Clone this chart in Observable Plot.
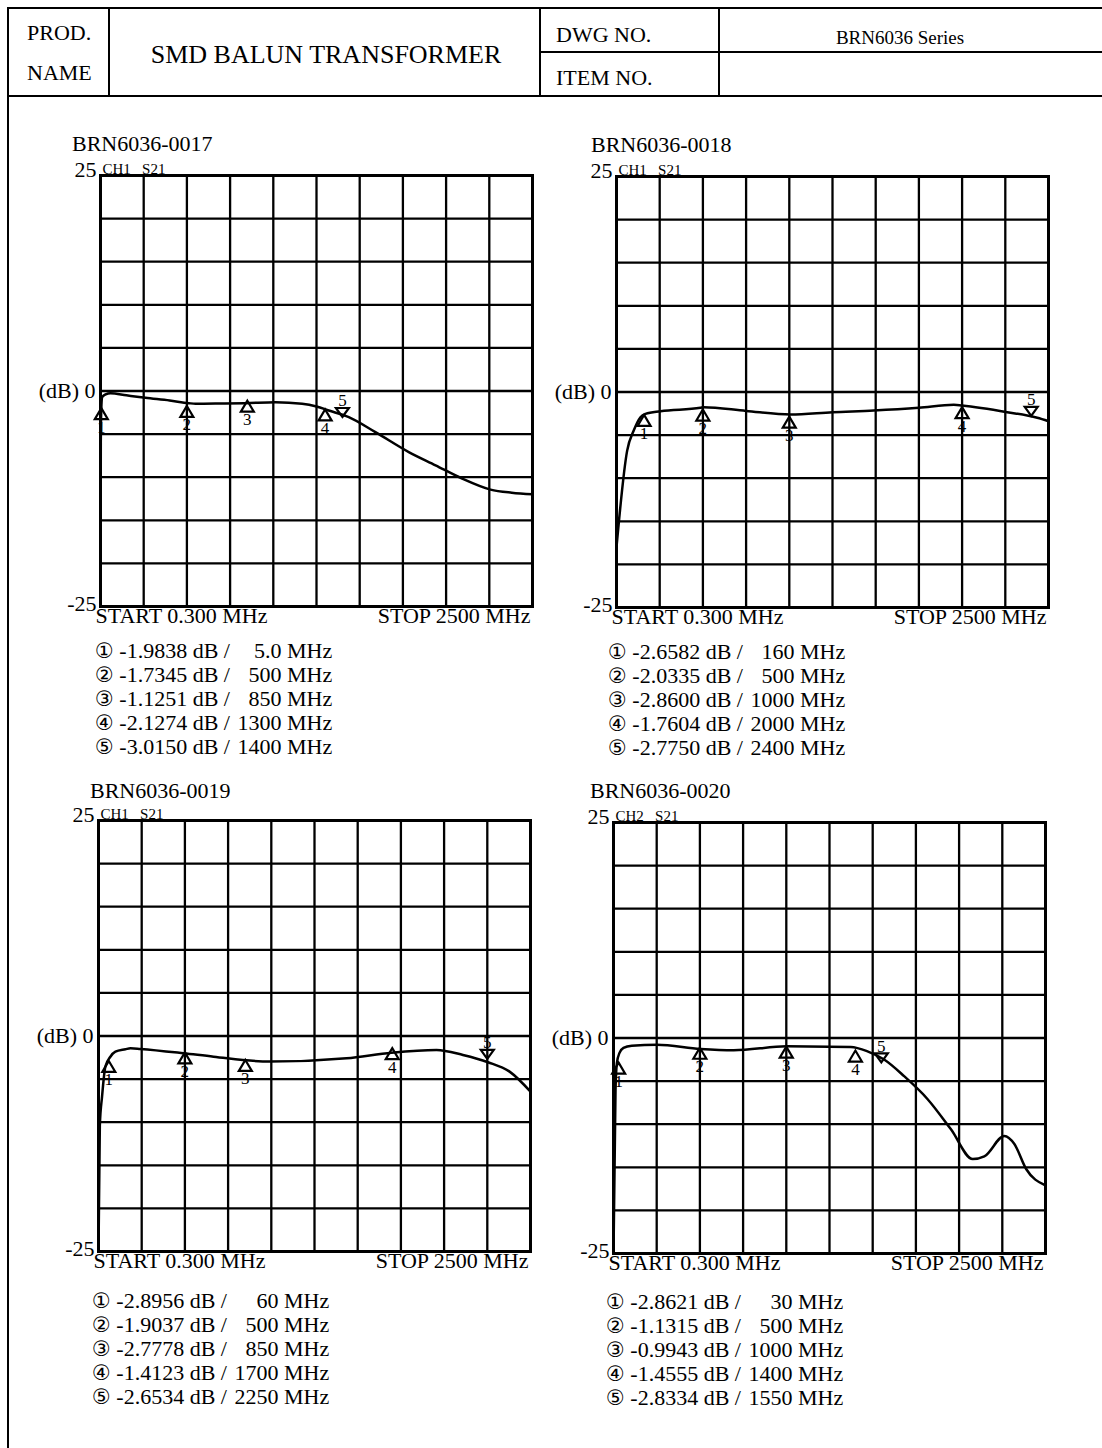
<!DOCTYPE html>
<html><head><meta charset="utf-8">
<script src="https://cdn.jsdelivr.net/npm/d3@7"></script>
<script src="https://cdn.jsdelivr.net/npm/@observablehq/plot@0.6"></script>
<style>
html,body{margin:0;padding:0;background:#fff;}
#page{position:relative;width:1102px;height:1448px;overflow:hidden;font-family:"Liberation Serif","Times New Roman",serif;color:#000;background:#fff;}
.t{position:absolute;white-space:pre;line-height:1;}
.ln{position:absolute;background:#000;}
.chart{position:absolute;}
.fq{display:inline-block;width:46px;text-align:right;}
</style></head><body><div id="page"></div>
<script>
// ---------- data ----------
const xStart = 0.3, xStop = 2500;      // MHz
const yTop = 25, yBottom = -25;        // dB
const gridDivisions = 10;

const headerProd = "PROD.", headerName = "NAME", headerTitle = "SMD BALUN TRANSFORMER";
const headerDwg = "DWG NO.", headerItem = "ITEM NO.", headerSeries = "BRN6036 Series";

const titles = ["BRN6036-0017", "BRN6036-0018", "BRN6036-0019", "BRN6036-0020"];
const channels = ["CH1   S21", "CH1   S21", "CH1   S21", "CH2   S21"];
const yTickValues = [25, 0, -25];
const yTickLabels = ["25", "(dB) 0", "-25"];
const startLabel = "START 0.300 MHz", stopLabel = "STOP 2500 MHz";
const circled = ["\u2460", "\u2461", "\u2462", "\u2463", "\u2464"];

// trace 0017
const freq17 = [0.3, 2, 5, 10, 30, 58, 150, 260, 400, 511, 550, 700, 839, 1013, 1167, 1250, 1321, 1437, 1591, 1784, 1939, 2093, 2257, 2380, 2500];
const db17   = [-25, -6, -2.0, -0.72, -0.4, -0.25, -0.5, -0.79, -1.1, -1.41, -1.48, -1.45, -1.41, -1.3, -1.48, -1.8, -2.26, -3.03, -4.77, -7.08, -8.62, -10.16, -11.44, -11.8, -11.98];
// trace 0018
const freq18 = [0.3, 62, 100, 139, 168, 255, 486, 505, 750, 1007, 1250, 1489, 1750, 1952, 2000, 2261, 2435, 2500];
const db18   = [-18, -6.8, -4.47, -2.92, -2.53, -2.23, -1.83, -1.76, -2.2, -2.61, -2.34, -2.15, -1.83, -1.48, -1.57, -2.34, -2.99, -3.39];
// trace 0019
const freq19 = [0.3, 8, 21, 40, 69, 98, 156, 185, 243, 493, 666, 993, 1436, 1696, 1956, 2109, 2254, 2379, 2500];
const db19   = [-25, -10.4, -7.0, -3.55, -2.4, -1.82, -1.54, -1.42, -1.5, -2.0, -2.4, -2.97, -2.58, -1.93, -1.62, -2.2, -3.04, -4.13, -6.45];
// trace 0020
const freq20 = [0.3, 12, 20, 35, 58, 106, 252, 503, 696, 1002, 1373, 1470, 1566, 1682, 1818, 1953, 2079, 2146, 2262, 2320, 2388, 2494];
const db20   = [-25, -6, -2.89, -1.73, -1.15, -0.89, -0.77, -1.27, -1.43, -0.97, -1.04, -1.55, -2.5, -4.43, -7.1, -10.6, -14.05, -13.74, -11.36, -12.3, -15.2, -17.05];

// markers
const mFreq17 = [5, 500, 850, 1300, 1400];
const mDb17   = [-1.9838, -1.7345, -1.1251, -2.1274, -3.0150];
const mLbl17  = ["5.0", "500", "850", "1300", "1400"];
const mFreq18 = [160, 500, 1000, 2000, 2400];
const mDb18   = [-2.6582, -2.0335, -2.8600, -1.7604, -2.7750];
const mLbl18  = ["160", "500", "1000", "2000", "2400"];
const mFreq19 = [60, 500, 850, 1700, 2250];
const mDb19   = [-2.8956, -1.9037, -2.7778, -1.4123, -2.6534];
const mLbl19  = ["60", "500", "850", "1700", "2250"];
const mFreq20 = [30, 500, 1000, 1400, 1550];
const mDb20   = [-2.8621, -1.1315, -0.9943, -1.4555, -2.8334];
const mLbl20  = ["30", "500", "1000", "1400", "1550"];

// ---------- layout ----------
const page = document.getElementById("page");
function line(x, y, w, h) {
  const d = document.createElement("div");
  d.className = "ln";
  Object.assign(d.style, {left: x + "px", top: y + "px", width: w + "px", height: h + "px"});
  page.appendChild(d);
}
function text(str, x, yc, size, anchor) {
  const d = document.createElement("div");
  d.className = "t";
  d.style.fontSize = size + "px";
  d.style.top = (yc - size / 2) + "px";
  d.style.left = x + "px";
  if (anchor === "middle") d.style.transform = "translateX(-50%)";
  d.textContent = str;
  page.appendChild(d);
  return d;
}

// header
line(7, 7, 1095, 2);
line(7, 95, 1095, 2);
line(540, 51, 562, 2);
line(7, 7, 2, 1441);
line(108, 7, 2, 89);
line(539, 7, 2, 89);
line(718, 7, 2, 89);
text(headerProd, 27, 33, 22);
text(headerName, 27, 73, 22);
text(headerTitle, 326, 55, 26, "middle");
text(headerDwg, 556, 35, 22);
text(headerItem, 556, 78, 22);
text(headerSeries, 900, 37, 19, "middle");

// triangle symbols with apex at the data point
const upTri = {draw(ctx) { ctx.moveTo(0, 0); ctx.lineTo(6.5, 11); ctx.lineTo(-6.5, 11); ctx.closePath(); }};
const downTri = {draw(ctx) { ctx.moveTo(0, 0); ctx.lineTo(6.5, -9); ctx.lineTo(-6.5, -9); ctx.closePath(); }};

const charts = [
  {freq: freq17, db: db17, mf: mFreq17, md: mDb17, ml: mLbl17, fx: 100, fy: 175, tx: 72, ty: 144, lx: 95, ly: 651},
  {freq: freq18, db: db18, mf: mFreq18, md: mDb18, ml: mLbl18, fx: 616, fy: 176, tx: 591, ty: 145, lx: 608, ly: 652},
  {freq: freq19, db: db19, mf: mFreq19, md: mDb19, ml: mLbl19, fx: 98, fy: 820, tx: 90, ty: 791, lx: 92, ly: 1301},
  {freq: freq20, db: db20, mf: mFreq20, md: mDb20, ml: mLbl20, fx: 613, fy: 822, tx: 590, ty: 791, lx: 606, ly: 1302}
];

const W = 432, H = 431, mL = 80, mR = 12, mT = 30, mB = 32;
const gridX = d3.range(gridDivisions + 1).map(i => xStart + i * (xStop - xStart) / gridDivisions);
const gridY = d3.range(gridDivisions + 1).map(i => yBottom + i * (yTop - yBottom) / gridDivisions);

charts.forEach((c, k) => {
  const trace = c.freq.map((f, i) => ({f, db: c.db[i]}));
  const mk = c.mf.map((f, i) => ({f, db: c.md[i], n: String(i + 1), down: i === 4}));
  const yt = yTickValues.map((v, i) => ({v, label: yTickLabels[i]}));
  const svg = Plot.plot({
    width: mL + W + mR, height: mT + H + mB,
    marginLeft: mL, marginRight: mR, marginTop: mT, marginBottom: mB,
    x: {domain: [xStart, xStop], axis: null},
    y: {domain: [yBottom, yTop], axis: null},
    style: {fontFamily: "'Liberation Serif', 'Times New Roman', serif", background: "transparent", color: "#000", overflow: "visible"},
    marks: [
      Plot.ruleX(gridX, {stroke: "#000", strokeWidth: 2.3}),
      Plot.ruleY(gridY, {stroke: "#000", strokeWidth: 2.3}),
      Plot.frame({stroke: "#000", strokeWidth: 3}),
      Plot.line(trace, {x: "f", y: "db", stroke: "#000", strokeWidth: 2.5, curve: "monotone-x"}),
      Plot.dot(mk.filter(d => !d.down), {x: "f", y: "db", symbol: upTri, stroke: "#000", strokeWidth: 2.2, fill: "none"}),
      Plot.dot(mk.filter(d => d.down), {x: "f", y: "db", symbol: downTri, stroke: "#000", strokeWidth: 2.2, fill: "none"}),
      Plot.text(mk.filter(d => !d.down), {x: "f", y: "db", text: "n", dy: 19, fontSize: 17, fill: "#000"}),
      Plot.text(mk.filter(d => d.down), {x: "f", y: "db", text: "n", dy: -16, fontSize: 17, fill: "#000"}),
      Plot.text(yt.filter(d => d.v === 25), {x: xStart, y: "v", text: "label", textAnchor: "end", dx: -4, dy: -6, fontSize: 22, fill: "#000"}),
      Plot.text(yt.filter(d => d.v === 0), {x: xStart, y: "v", text: "label", textAnchor: "end", dx: -5, fontSize: 22, fill: "#000"}),
      Plot.text(yt.filter(d => d.v === -25), {x: xStart, y: "v", text: "label", textAnchor: "end", dx: -4, dy: -3, fontSize: 22, fill: "#000"}),
      Plot.text([channels[k]], {frameAnchor: "top-left", text: d => d, textAnchor: "start", lineAnchor: "bottom", dx: 2, dy: -2, fontSize: 15, fill: "#000"}),
      Plot.text([startLabel], {frameAnchor: "bottom-left", text: d => d, textAnchor: "start", dx: -5, dy: 16, fontSize: 22, fill: "#000"}),
      Plot.text([stopLabel], {frameAnchor: "bottom-right", text: d => d, textAnchor: "end", dx: -2, dy: 16, fontSize: 22, fill: "#000"})
    ]
  });
  svg.classList.add("chart");
  svg.style.left = (c.fx - mL) + "px";
  svg.style.top = (c.fy - mT) + "px";
  page.appendChild(svg);

  text(titles[k], c.tx, c.ty, 22);
  c.md.forEach((v, i) => {
    const d = text("", c.lx, c.ly + i * 24, 22);
    const circ = document.createElement("span");
    circ.textContent = circled[i];
    circ.style.fontFamily = "'DejaVu Sans', sans-serif";
    circ.style.fontSize = "21px";
    d.appendChild(circ);
    d.appendChild(document.createTextNode(" " + v.toFixed(4) + " dB / "));
    const fq = document.createElement("span");
    fq.className = "fq";
    fq.textContent = c.ml[i];
    d.appendChild(fq);
    d.appendChild(document.createTextNode(" MHz"));
  });
});
</script>
</body></html>
